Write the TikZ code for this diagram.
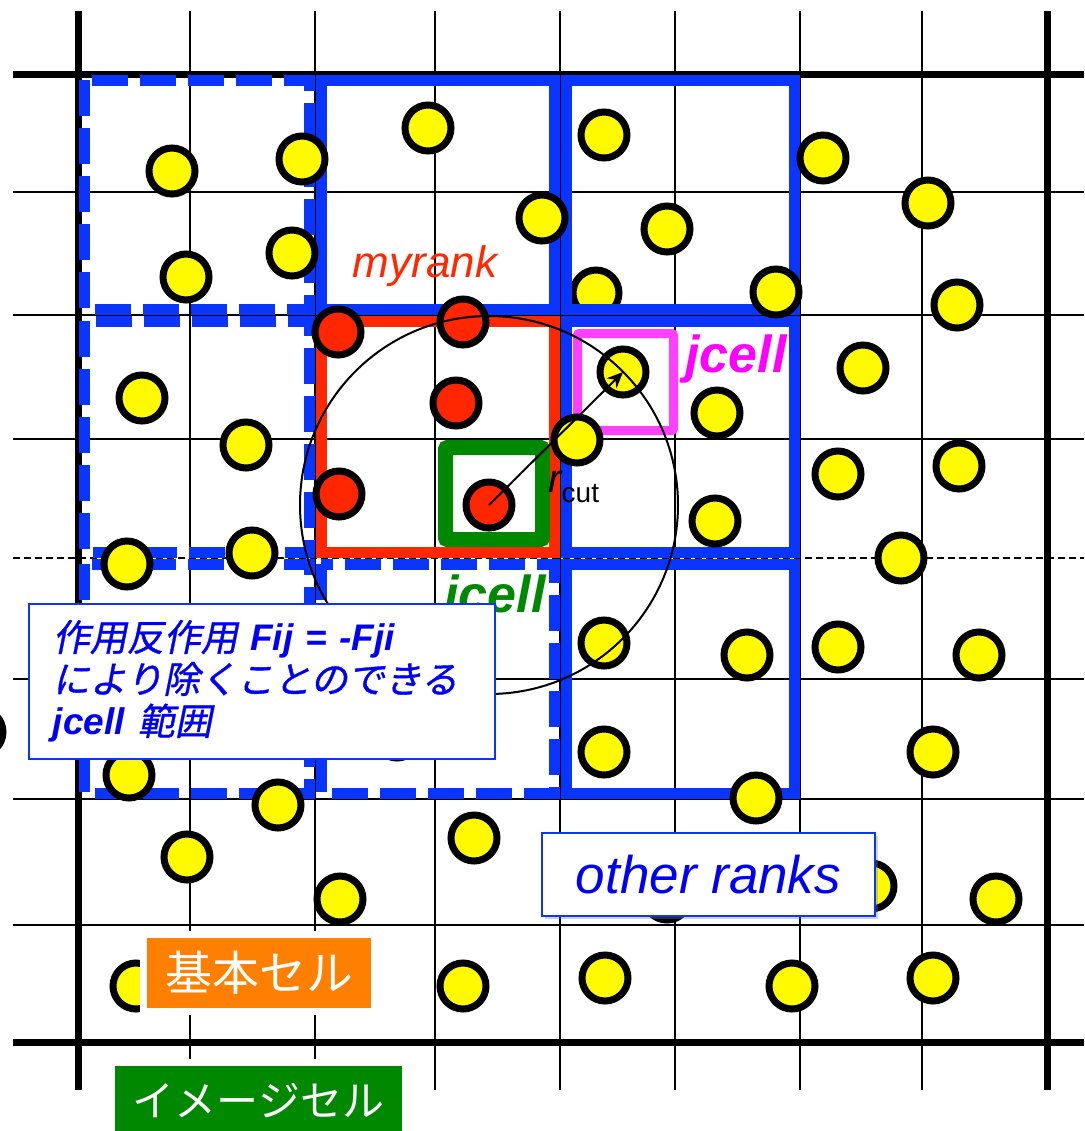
\documentclass[tikz,border=0pt]{standalone}
\usepackage{fontspec}
\setmainfont{Liberation Sans}
\newfontfamily\jpfont{Noto Sans CJK JP}
\newfontfamily\jpslant{Noto Sans CJK JP}[FakeSlant=0.2, FakeBold=1]
\usetikzlibrary{arrows.meta, shadows}
\definecolor{rkblue}{RGB}{10,52,255}
\definecolor{rktext}{RGB}{0,0,245}
\definecolor{rkred}{RGB}{255,40,0}
\definecolor{rkptred}{RGB}{255,38,0}
\definecolor{rkyellow}{RGB}{255,250,0}
\definecolor{rkgreen}{RGB}{0,136,0}
\definecolor{rkmagenta}{RGB}{255,64,255}
\definecolor{rkpink}{RGB}{255,0,255}
\definecolor{rkorange}{RGB}{255,128,0}

\begin{document}
\begin{tikzpicture}[x=0.5pt, y=-0.5pt,
  gridline/.style={line width=1pt},
  wallline/.style={line width=3.5pt},
  rankframe/.style={draw=rkblue, line width=5.5pt},
  haloframe/.style={rankframe, dash pattern=on 18pt off 6pt},
  ptcl/.style={circle, draw=black, line width=3.5pt, fill=rkyellow,
    minimum size=23pt, inner sep=0pt},
  myptcl/.style={ptcl, fill=rkptred},
  celltag/.style={text=white, draw=white, line width=3.5pt, inner sep=0pt,
    drop shadow={shadow xshift=1.5pt, shadow yshift=-1.5pt, opacity=0.35}},
  notebox/.style={draw=rkblue, line width=0.8pt, fill=white, text=rktext}]
\useasboundingbox (0,0) rectangle (1084,1131);

% ---- cell grid ----
\foreach \gx in {190,315,435,560,675,800,922}
  \draw[gridline] (\gx,11) -- (\gx,1090);
\foreach \gy in {192,315,439,679,799,925}
  \draw[gridline] (13,\gy) -- (1084,\gy);
\draw[gridline, dash pattern=on 3.5pt off 2pt] (13,558) -- (1084,558);
% unit cell walls
\foreach \gx in {78,1047}
  \draw[wallline] (\gx,11) -- (\gx,1090);
\foreach \gy in {74,1042}
  \draw[wallline] (13,\gy) -- (1084,\gy);

% particle behind a frame
\node[ptcl] (q0) at (596,293) {};

% ---- rank frames ----
\draw[haloframe] (84,80) rectangle (309,309);
\draw[haloframe] (84,321) rectangle (309,552);
\draw[haloframe] (84,564) rectangle (309,793);
\draw[haloframe] (321,564) rectangle (554,793);
\draw[rankframe] (321,80) rectangle (554,309);
\draw[rankframe] (566,80) rectangle (794,309);
\draw[rankframe] (566,321) rectangle (794,552);
\draw[rankframe] (566,564) rectangle (794,793);
% myrank
\draw[draw=rkred, line width=5.5pt] (321,321) rectangle (554,552);

% icell / jcell squares
\draw[draw=rkgreen, line width=7.5pt, rounded corners=1pt] (445.5,447.5) rectangle (542.5,539.5);
\draw[draw=rkmagenta, line width=4.5pt, rounded corners=1pt] (577.5,333.5) rectangle (673.5,430.5);

% ---- particles ----
\foreach \px/\py [count=\k] in {172/171, 302/159, 186/277, 292/253,
    428/128, 542/218, 604/135, 667/229, 776/292,
    823/158, 928/203, 957/305,
    863/368, 717/413, 838/474, 959/466, 715/521, 901/558,
    142/398, 246/445, 127/564, 252/553, 577/440,
    604/643, 747/655, 838/647, 979/655, 604/752, 933/752, 756/798,
    129/775, 278/805, -20/732, 397/735,
    187/857, 340/899, 474/838, 871/886, 667/897, 996/899,
    136/986, 463/986, 605/978, 792/986, 933/978}
  \node[ptcl] (p\k) at (\px,\py) {};
\foreach \px/\py [count=\k] in {338/332, 463/322, 456/403, 339/494}
  \node[myptcl] (m\k) at (\px,\py) {};
\node[myptcl] (ia) at (489,505) {};
\node[ptcl] (ja) at (623,372) {};

% cutoff sphere
\draw[line width=1pt] (ia.center) circle[radius=94.5pt];
\draw[line width=1pt, -{Stealth[length=8pt, width=7pt]}] (ia.center) -- (ja.center);
\node[anchor=base west, inner sep=0pt] (rcut) at (548,492)
  {{\fontsize{20pt}{20pt}\selectfont\itshape r}\raisebox{-5pt}{\fontsize{14pt}{14pt}\selectfont cut}};

% ---- labels ----
\node[anchor=base, inner sep=0pt, text=rkred, font=\fontsize{22pt}{22pt}\selectfont\itshape]
  (mylab) at (425,277) {myrank};
\node[anchor=base, inner sep=0pt, text=rkpink, font=\fontsize{26pt}{26pt}\selectfont\bfseries\itshape]
  (jlab) at (736,372) {jcell};
\node[anchor=base, inner sep=0pt, text=rkgreen, font=\fontsize{26pt}{26pt}\selectfont\bfseries\itshape]
  (ilab) at (495,612) {icell};

% note box
\node[notebox, anchor=north west, minimum width=233pt, minimum height=77.5pt,
  text width=209pt, inner xsep=12pt, align=left,
  font=\fontsize{18.5pt}{21pt}\selectfont] (note) at (28,603)
  {{\jpslant 作用反作用} \textbf{\textit{Fij = -Fji}}\\
   {\jpslant により除くことのできる}\\
   \textbf{\textit{jcell}} {\jpslant 範囲}};

\node[notebox, minimum width=166.5pt, minimum height=41.5pt, inner sep=0pt,
  drop shadow={shadow xshift=1.5pt, shadow yshift=-1.5pt, opacity=0.35},
  font=\fontsize{26.5pt}{26.5pt}\selectfont\itshape] (others) at (708.5,874.5) {other ranks};

% cell tags
\node[celltag, fill=rkorange, minimum width=115.75pt, minimum height=38.5pt,
  font=\jpfont\fontsize{23.5pt}{23.5pt}\selectfont] (basecell) at (259,973) {基本セル};
\node[celltag, fill=rkgreen, minimum width=147pt, minimum height=38.5pt,
  font=\jpfont\fontsize{21pt}{21pt}\selectfont] (imagecell) at (258.5,1101) {イメージセル};
\end{tikzpicture}
\end{document}
